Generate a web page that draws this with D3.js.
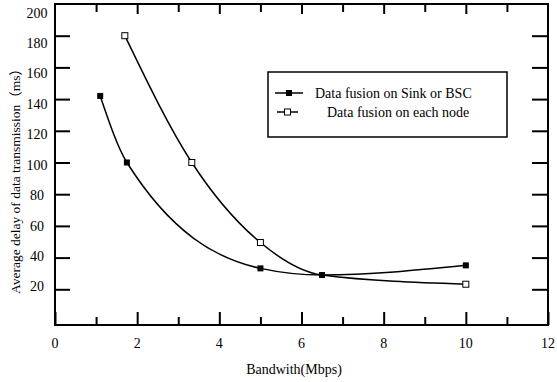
<!DOCTYPE html>
<html>
<head>
<meta charset="utf-8">
<script src="https://cdn.jsdelivr.net/npm/d3@7"></script>
<style>
  html, body { margin: 0; padding: 0; background: #fff; }
  svg { display: block; }
</style>
</head>
<body>
<script>
// ---- data ----
const seriesNames = ["Data fusion on Sink or BSC", "Data fusion on each node"];
const sinkX = [1.1, 1.75, 5, 6.5, 10];
const sinkY = [142, 100, 33.2, 29, 35.1];
const nodeX = [1.7, 3.33, 5, 6.5, 10];
const nodeY = [180, 100, 49.5, 29, 23.2];
const nodeMarked = [true, true, true, false, true];
const xTicks = [0,1,2,3,4,5,6,7,8,9,10,11,12];
const xTickLabels = [0,2,4,6,8,10,12];
const yTicks = [20,40,60,80,100,120,140,160,180];
const yTickLabels = [20,40,60,80,100,120,140,160,180,200];
const xTitle = "Bandwith(Mbps)";
const yTitle = "Average delay of data transmission\uFF08ms\uFF09";

const FONT = "'Liberation Serif', 'Times New Roman', 'DejaVu Serif', 'Noto Sans CJK SC', serif";
const W = 557, H = 382;
const frame = {left: 55, right: 548, top: 4, bottom: 325};

const svg = d3.select("body").append("svg").attr("width", W).attr("height", H)
  .attr("font-family", FONT);

const x = d3.scaleLinear().domain([0, 12]).range([frame.left, frame.right]);
const y = d3.scaleLinear().domain([0, 200]).range([321, 4]);
const yLab = d3.scaleLinear().domain([0, 200]).range([317.4, 13]);

// frame
svg.append("rect")
  .attr("x", frame.left).attr("y", frame.top)
  .attr("width", frame.right - frame.left).attr("height", frame.bottom - frame.top)
  .attr("fill", "none").attr("stroke", "#000").attr("stroke-width", 2);

// bottom axis
const gB = svg.append("g").attr("transform", `translate(0,${frame.bottom})`)
  .call(d3.axisBottom(x).tickValues(xTicks).tickSize(0).tickFormat(""));
gB.select(".domain").remove();
gB.selectAll(".tick line").attr("stroke-width", 2)
  .attr("y2", d => (d % 2 === 0 ? -13 : -8));

// x tick labels
svg.append("g").selectAll("text").data(xTickLabels).join("text")
  .attr("font-family", FONT)
  .attr("x", d => x(d)).attr("y", 343)
  .attr("text-anchor", "middle").attr("dominant-baseline", "central")
  .attr("font-size", 14).text(d => d);

// top axis ticks
const gT = svg.append("g").attr("transform", `translate(0,${frame.top})`)
  .call(d3.axisTop(x).tickValues(xTicks.filter(d => d > 0 && d < 12)).tickSize(0).tickFormat(""));
gT.select(".domain").remove();
gT.selectAll(".tick line").attr("stroke-width", 2)
  .attr("y2", d => (d % 2 === 0 ? 10 : 8));

// left axis ticks
const gL = svg.append("g").attr("transform", `translate(${frame.left},0)`)
  .call(d3.axisLeft(y).tickValues(yTicks).tickSize(-15).tickFormat(""));
gL.select(".domain").remove();
gL.selectAll(".tick line").attr("stroke-width", 2);

// right axis ticks
const gR = svg.append("g").attr("transform", `translate(${frame.right},0)`)
  .call(d3.axisRight(y).tickValues(yTicks).tickSize(-16).tickFormat(""));
gR.select(".domain").remove();
gR.selectAll(".tick line").attr("stroke-width", 2);

// y tick labels
svg.append("g").selectAll("text").data(yTickLabels).join("text")
  .attr("font-family", FONT)
  .attr("x", 37).attr("y", d => yLab(d))
  .attr("text-anchor", "middle").attr("dominant-baseline", "central")
  .attr("font-size", 14).text(d => d);

// titles
svg.append("text").attr("x", 294).attr("y", 374).attr("font-family", FONT)
  .attr("text-anchor", "middle").attr("font-size", 14).text(xTitle);
svg.append("text").attr("font-family", FONT)
  .attr("transform", "translate(15,178) rotate(-90)")
  .attr("text-anchor", "middle").attr("dominant-baseline", "central")
  .attr("font-size", 13.5).text(yTitle);

// curves
const line = d3.line().x(d => x(d[0])).y(d => y(d[1])).curve(d3.curveMonotoneX);
const sink = sinkX.map((v, i) => [v, sinkY[i]]);
const node = nodeX.map((v, i) => [v, nodeY[i]]);

svg.append("path").attr("d", line(node)).attr("fill", "none").attr("stroke", "#000").attr("stroke-width", 1.5);
svg.append("path").attr("d", line(sink)).attr("fill", "none").attr("stroke", "#000").attr("stroke-width", 1.5);

const ms = 6;
svg.append("g").selectAll("rect").data(node.filter((d, i) => nodeMarked[i])).join("rect")
  .attr("x", d => x(d[0]) - ms / 2).attr("y", d => y(d[1]) - ms / 2)
  .attr("width", ms).attr("height", ms)
  .attr("fill", "#fff").attr("stroke", "#000").attr("stroke-width", 1);
svg.append("g").selectAll("rect").data(sink).join("rect")
  .attr("x", d => x(d[0]) - ms / 2).attr("y", d => y(d[1]) - ms / 2)
  .attr("width", ms).attr("height", ms)
  .attr("fill", "#000");

// legend
const lg = svg.append("g");
lg.append("rect").attr("x", 268).attr("y", 72).attr("width", 239).attr("height", 65)
  .attr("fill", "#fff").attr("stroke", "#000").attr("stroke-width", 1.5);
const legendRows = [
  {name: seriesNames[0], y: 93, x1: 275, x2: 303, fill: "#000", tx: 315},
  {name: seriesNames[1], y: 112, x1: 277, x2: 298, fill: "#fff", tx: 327}
];
legendRows.forEach(r => {
  lg.append("line").attr("x1", r.x1).attr("x2", r.x2).attr("y1", r.y).attr("y2", r.y)
    .attr("stroke", "#000").attr("stroke-width", 1.5);
  const cx = (r.x1 + r.x2) / 2;
  lg.append("rect").attr("x", cx - 3).attr("y", r.y - 3).attr("width", 6).attr("height", 6)
    .attr("fill", r.fill).attr("stroke", "#000").attr("stroke-width", r.fill === "#000" ? 0 : 1);
  lg.append("text").attr("x", r.tx).attr("y", r.y).attr("dominant-baseline", "central")
    .attr("font-family", FONT).attr("font-size", 14).text(r.name);
});
</script>
</body>
</html>
